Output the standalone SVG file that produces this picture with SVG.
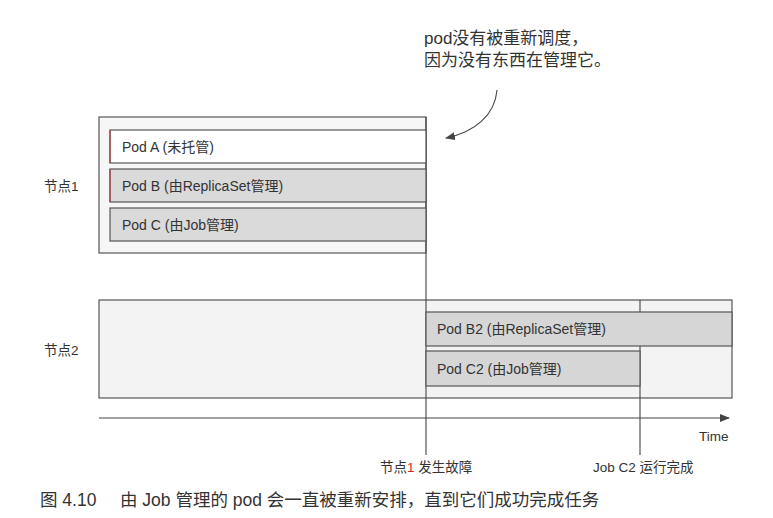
<svg xmlns="http://www.w3.org/2000/svg" width="773" height="518" viewBox="0 0 773 518">
<style>
text{font-family:"Liberation Sans","Noto Sans CJK SC",sans-serif;fill:#333}
.pod{font-size:14px}
.lbl{font-size:13.5px}
.box{stroke:#555;stroke-width:1.2}
.line{stroke:#444;stroke-width:1.1;fill:none}
</style>
<defs>
<marker id="arr" markerWidth="10" markerHeight="8" refX="9" refY="4" orient="auto" markerUnits="userSpaceOnUse">
<path d="M0,0 L10,4 L0,8 Z" fill="#444"/>
</marker>
</defs>
<rect width="773" height="518" fill="#fff"/>
<g id="node1">
<rect class="box" x="99" y="117" width="327" height="136" fill="#f6f6f6"/>
<text class="lbl" x="44" y="191">节点1</text>
</g>
<g id="node2">
<rect class="box" x="99" y="300" width="633" height="98" fill="#f3f3f3"/>
<text class="lbl" x="44" y="355">节点2</text>
</g>
<g id="connectors">
<line class="line" x1="426" y1="117" x2="426" y2="455"/>
<line class="line" x1="640" y1="300" x2="640" y2="455"/>
<line class="line" x1="99" y1="418" x2="729" y2="418" marker-end="url(#arr)"/>
<path class="line" d="M497,90 C495,115 475,132 446,138" marker-end="url(#arr)"/>
</g>
<g id="podA">
<rect class="box" x="110" y="130" width="316" height="33" fill="#fff"/>
<line x1="110" y1="130" x2="110" y2="163" stroke="#b04040" stroke-width="1.2"/>
<text class="pod" x="122" y="152">Pod A (未托管)</text>
</g>
<g id="podB">
<rect class="box" x="110" y="169" width="316" height="33" fill="#dadada"/>
<line x1="110" y1="169" x2="110" y2="202" stroke="#b04040" stroke-width="1.2"/>
<text class="pod" x="122" y="191">Pod B (由ReplicaSet管理)</text>
</g>
<g id="podC">
<rect class="box" x="110" y="208" width="316" height="33" fill="#dadada"/>
<text class="pod" x="122" y="230">Pod C (由Job管理)</text>
</g>
<g id="podB2">
<rect class="box" x="426" y="312" width="306" height="34" fill="#d6d6d6"/>
<text class="pod" x="437" y="334">Pod B2 (由ReplicaSet管理)</text>
</g>
<g id="podC2">
<rect class="box" x="426" y="351" width="214" height="35" fill="#d6d6d6"/>
<text class="pod" x="437" y="374">Pod C2 (由Job管理)</text>
</g>
<g id="labels">
<text class="lbl" x="699" y="441">Time</text>
<text class="lbl" x="380" y="472">节点<tspan fill="#e02020">1</tspan> 发生故障</text>
<text class="lbl" x="593" y="472">Job C2 运行完成</text>
<text x="424" y="44" font-size="17">pod没有被重新调度，</text>
<text x="424" y="66" font-size="17">因为没有东西在管理它。</text>
<text x="40" y="506" font-size="17.5" fill="#222">图 4.10</text>
<text x="120" y="506" font-size="17.5" fill="#222">由 Job 管理的 pod 会一直被重新安排，直到它们成功完成任务</text>
</g>
</svg>
